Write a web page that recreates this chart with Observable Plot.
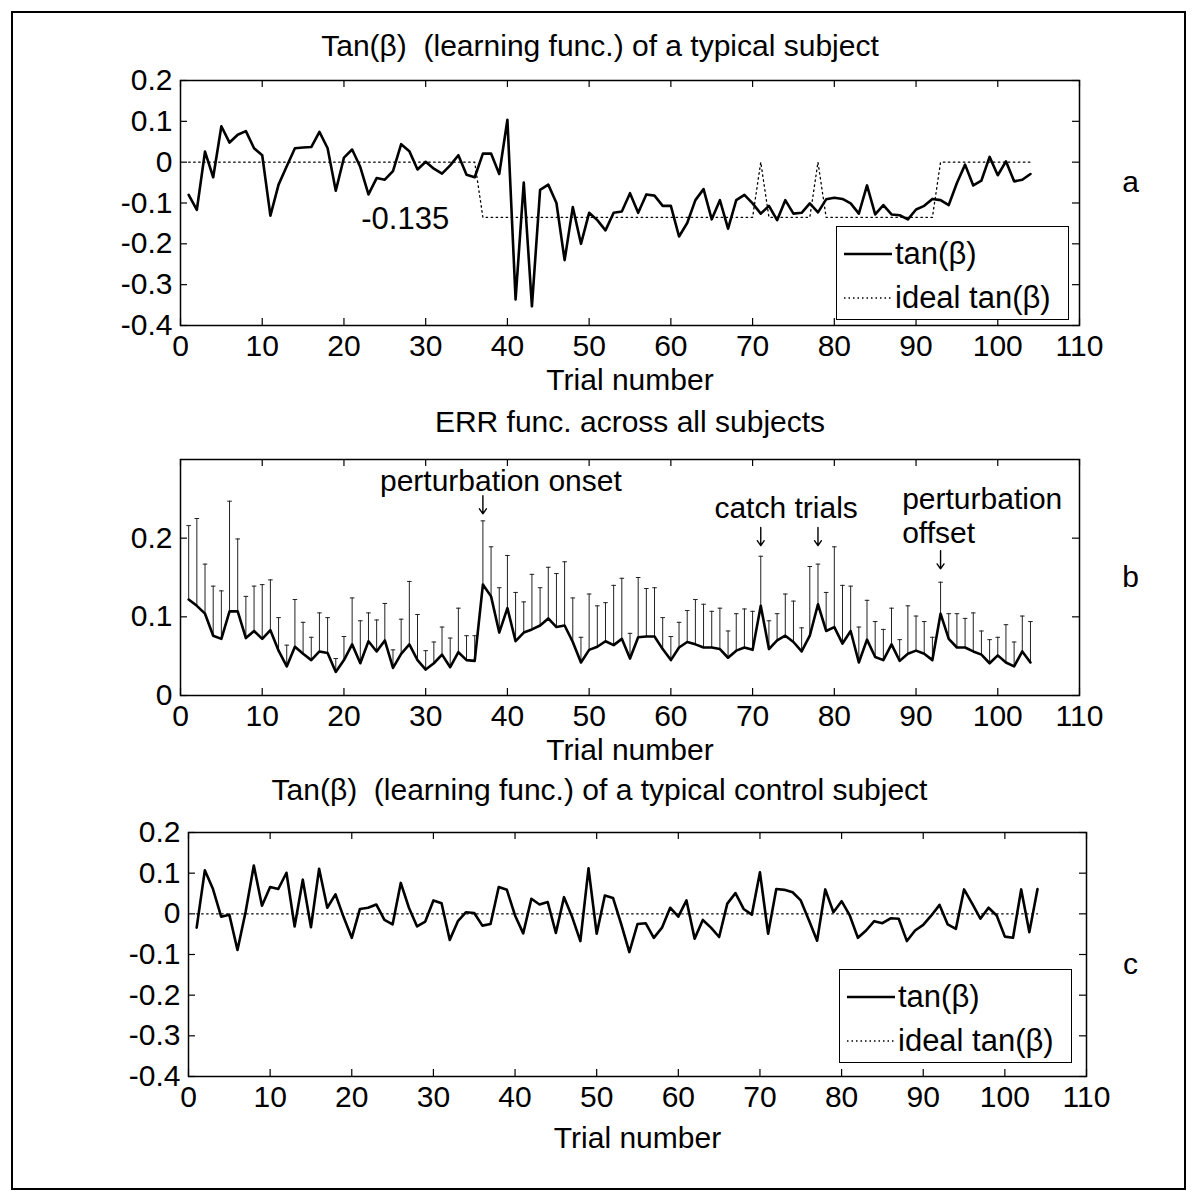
<!DOCTYPE html>
<html><head><meta charset="utf-8">
<script src="https://cdn.jsdelivr.net/npm/d3@7"></script>
<script src="https://cdn.jsdelivr.net/npm/@observablehq/plot@0.6"></script>
<style>
body{margin:0;background:#fff;}
#page{position:relative;width:1197px;height:1202px;overflow:hidden;font-family:"Liberation Sans",Arial,sans-serif;color:#000;background:#fff;}
#border{position:absolute;left:11px;top:11px;width:1175px;height:1179px;border:2px solid #000;box-sizing:border-box;}
.panel{position:absolute;left:0;}
.legend{position:absolute;border:1.5px solid #000;background:#fff;box-sizing:border-box;font-size:31px;width:233px;height:94px;}
.legend .row{position:absolute;left:0;height:40px;line-height:40px;display:flex;align-items:center;white-space:nowrap;}
.legend svg{display:block;margin-left:7px;margin-right:3px;}
</style></head><body><div id="page"><div id="border"></div></div>
<script>
// ---------- data ----------
const xTicks = [0,10,20,30,40,50,60,70,80,90,100,110];
const yTicksTan = [0.2,0.1,0,-0.1,-0.2,-0.3,-0.4];
const yTicksErr = [0,0.1,0.2];

const titleA = "Tan(\u03B2)  (learning func.) of a typical subject";
const titleB = "ERR func. across all subjects";
const titleC = "Tan(\u03B2)  (learning func.) of a typical control subject";
const xLabel = "Trial number";
const legendLabels = ["tan(\u03B2)", "ideal tan(\u03B2)"];

// Panel a: tan(beta) of a typical subject, trials 1..104
const tanA = [-0.080,-0.117,0.026,-0.037,0.088,0.048,0.067,0.076,0.034,0.017,
 -0.131,-0.055,-0.010,0.034,0.036,0.037,0.074,0.034,-0.070,0.011,
 0.031,-0.012,-0.079,-0.039,-0.043,-0.022,0.044,0.027,-0.018,0.001,
 -0.016,-0.028,-0.008,0.017,-0.031,-0.037,0.021,0.021,-0.029,0.104,
 -0.336,-0.050,-0.353,-0.068,-0.055,-0.100,-0.240,-0.110,-0.200,-0.124,
 -0.142,-0.167,-0.124,-0.121,-0.076,-0.124,-0.079,-0.082,-0.107,-0.107,
 -0.182,-0.149,-0.093,-0.066,-0.140,-0.093,-0.163,-0.093,-0.080,-0.101,
 -0.126,-0.107,-0.142,-0.093,-0.126,-0.124,-0.101,-0.123,-0.091,-0.087,
 -0.090,-0.101,-0.126,-0.057,-0.128,-0.105,-0.128,-0.130,-0.140,-0.116,
 -0.107,-0.090,-0.093,-0.105,-0.051,-0.006,-0.057,-0.045,0.013,-0.032,
 0.002,-0.047,-0.043,-0.029];
// ideal tan(beta): 0 before onset, -0.135 during perturbation, 0 on catch trials and after offset
const idealA = [0,0,0,0,0,0,0,0,0,0, 0,0,0,0,0,0,0,0,0,0,
 0,0,0,0,0,0,0,0,0,0, 0,0,0,0,0,0,-0.135,-0.135,-0.135,-0.135,
 -0.135,-0.135,-0.135,-0.135,-0.135,-0.135,-0.135,-0.135,-0.135,-0.135,
 -0.135,-0.135,-0.135,-0.135,-0.135,-0.135,-0.135,-0.135,-0.135,-0.135,
 -0.135,-0.135,-0.135,-0.135,-0.135,-0.135,-0.135,-0.135,-0.135,-0.135,
 0,-0.135,-0.135,-0.135,-0.135,-0.135,-0.135,0,-0.135,-0.135,
 -0.135,-0.135,-0.135,-0.135,-0.135,-0.135,-0.135,-0.135,-0.135,-0.135,
 -0.135,-0.135,0,0,0,0,0,0,0,0, 0,0,0,0];
const idealNote = [{trial: 27.5, value: -0.14, label: "-0.135"}];

// Panel b: ERR mean and upper error bar
const errMean = [0.122,0.114,0.104,0.076,0.072,0.107,0.107,0.073,0.082,0.072,
 0.083,0.057,0.037,0.062,0.053,0.045,0.056,0.054,0.030,0.045,
 0.065,0.041,0.069,0.056,0.070,0.035,0.053,0.065,0.045,0.033,
 0.041,0.052,0.036,0.055,0.045,0.044,0.141,0.126,0.080,0.111,
 0.069,0.080,0.084,0.089,0.098,0.087,0.089,0.068,0.042,0.058,
 0.062,0.069,0.064,0.072,0.047,0.074,0.075,0.075,0.059,0.045,
 0.061,0.068,0.065,0.061,0.061,0.059,0.048,0.057,0.061,0.058,
 0.114,0.059,0.070,0.076,0.068,0.056,0.076,0.116,0.082,0.087,
 0.066,0.082,0.042,0.071,0.049,0.045,0.065,0.044,0.053,0.057,
 0.053,0.045,0.104,0.072,0.061,0.061,0.056,0.052,0.041,0.051,
 0.042,0.037,0.056,0.042];
const errUpper = [0.216,0.225,0.167,0.139,0.133,0.247,0.199,0.126,0.139,0.141,
 0.147,0.099,0.064,0.122,0.093,0.074,0.105,0.099,0.047,0.075,
 0.124,0.095,0.105,0.096,0.117,0.058,0.097,0.145,0.103,0.057,
 0.068,0.087,0.073,0.111,0.076,0.076,0.222,0.189,0.137,0.178,
 0.131,0.119,0.154,0.137,0.163,0.155,0.170,0.124,0.074,0.129,
 0.114,0.118,0.140,0.149,0.079,0.150,0.136,0.137,0.099,0.075,
 0.093,0.108,0.122,0.116,0.107,0.111,0.082,0.104,0.110,0.107,
 0.177,0.095,0.104,0.129,0.120,0.086,0.164,0.167,0.131,0.189,
 0.140,0.139,0.087,0.121,0.094,0.084,0.111,0.071,0.114,0.101,
 0.094,0.074,0.144,0.104,0.104,0.098,0.105,0.082,0.071,0.074,
 0.090,0.068,0.101,0.094];
const notesCentered = [
 {trial: 39.2, value: 0.272, label: "perturbation onset"},
 {trial: 74.1, value: 0.238, label: "catch trials"}
];
const notesLeft = [
 {trial: 88.3, value: 0.229, label: "perturbation\noffset"}
];
const arrowsB = [
 {trial: 37, from: 0.254, to: 0.231},
 {trial: 71, from: 0.2135, to: 0.1905},
 {trial: 78, from: 0.2135, to: 0.1905},
 {trial: 93, from: 0.184, to: 0.161}
];

// Panel c: control subject
const tanC = [-0.034,0.107,0.061,-0.007,-0.002,-0.089,0.005,0.119,0.020,0.066,
 0.061,0.101,-0.031,0.084,-0.033,0.111,0.015,0.048,-0.008,-0.059,
 0.012,0.015,0.023,-0.015,-0.026,0.076,0.015,-0.031,-0.019,0.033,
 0.026,-0.064,-0.018,0.004,0.002,-0.029,-0.025,0.066,0.059,-0.004,
 -0.048,0.037,0.023,0.029,-0.047,0.041,-0.008,-0.067,0.112,-0.049,
 0.045,0.039,-0.025,-0.094,-0.025,-0.023,-0.059,-0.034,0.015,-0.007,
 0.033,-0.061,-0.015,-0.034,-0.057,0.025,0.051,0.012,-0.002,0.102,
 -0.049,0.061,0.059,0.053,0.033,-0.016,-0.066,0.060,0.004,0.031,
 -0.004,-0.059,-0.041,-0.018,-0.023,-0.011,-0.012,-0.067,-0.041,-0.027,
 -0.004,0.022,-0.026,-0.037,0.060,0.025,-0.012,0.015,-0.004,-0.056,
 -0.059,0.060,-0.045,0.061];
const idealC = [{trial: 1, value: 0}, {trial: 104, value: 0}];

// ---------- helpers ----------
const FONT = "Liberation Sans, Arial, sans-serif";
const fmtY = d => d === 0 ? "0" : d.toFixed(1);
const toRows = arr => arr.map((v, i) => ({trial: i + 1, value: v}));

function axesMarks(yTicks, ih, iw) {
  return [
    Plot.frame({stroke: "#000", strokeWidth: 1.5}),
    Plot.tickX(xTicks, {x: d => d, insetTop: ih - 7, stroke: "#000", strokeWidth: 1.2}),
    Plot.tickX(xTicks, {x: d => d, insetBottom: ih - 7, stroke: "#000", strokeWidth: 1.2}),
    Plot.tickY(yTicks, {y: d => d, insetRight: iw - 7, stroke: "#000", strokeWidth: 1.2}),
    Plot.tickY(yTicks, {y: d => d, insetLeft: iw - 7, stroke: "#000", strokeWidth: 1.2}),
    Plot.axisX(xTicks, {anchor: "bottom", tickSize: 0, tickPadding: 9, tickFormat: d => String(d), label: null, fontSize: 30, fill: "#000"}),
    Plot.axisY(yTicks, {anchor: "left", tickSize: 0, tickPadding: 8, tickFormat: fmtY, label: null, fontSize: 30, fill: "#000"})
  ];
}

function makePanel(cfg) {
  const ih = cfg.height - cfg.mt - cfg.mb;
  const iw = 1197 - cfg.ml - cfg.mr;
  const svg = Plot.plot({
    width: 1197, height: cfg.height,
    marginTop: cfg.mt, marginBottom: cfg.mb, marginLeft: cfg.ml, marginRight: cfg.mr,
    x: {domain: [0, 110], axis: null},
    y: {domain: cfg.yDomain, axis: null},
    style: {fontFamily: FONT, fontSize: "30px", color: "#000", background: "transparent", overflow: "visible"},
    marks: [
      ...axesMarks(cfg.yTicks, ih, iw),
      ...cfg.marks,
      Plot.text([cfg.title], {frameAnchor: "top", dx: cfg.titleDx, dy: cfg.titleDy, fontSize: 30, fill: "#000", textAnchor: "middle", lineAnchor: "middle"}),
      Plot.text([xLabel], {frameAnchor: "bottom", dy: cfg.xLabelDy, fontSize: 30, fill: "#000", textAnchor: "middle", lineAnchor: "middle"}),
      Plot.text([cfg.letter], {frameAnchor: "right", dx: cfg.letterDx, dy: cfg.letterDy, fontSize: 30, fill: "#000", textAnchor: "middle", lineAnchor: "middle"})
    ]
  });
  svg.classList.add("panel");
  svg.style.top = cfg.top + "px";
  document.getElementById("page").appendChild(svg);
}

function makeLegend(left, top) {
  const div = document.createElement("div");
  div.className = "legend";
  div.style.left = left + "px";
  div.style.top = top + "px";
  const rows = [
    {label: legendLabels[0], dash: null, width: 2.5, cy: 27},
    {label: legendLabels[1], dash: "1.5,3", width: 1.3, cy: 71}
  ];
  for (const r of rows) {
    const row = document.createElement("div");
    row.className = "row";
    row.style.top = (r.cy - 20) + "px";
    row.innerHTML = `<svg width="48" height="10"><line x1="0" x2="48" y1="5" y2="5" stroke="#000" stroke-width="${r.width}" ${r.dash ? `stroke-dasharray="${r.dash}"` : ""}/></svg><span>${r.label}</span>`;
    div.appendChild(row);
  }
  document.getElementById("page").appendChild(div);
}

// ---------- panel a ----------
makePanel({
  top: 20, height: 380, mt: 60, mb: 75, ml: 180, mr: 118,
  yDomain: [-0.4, 0.2], yTicks: yTicksTan,
  title: titleA, titleDx: -30, titleDy: -34, xLabelDy: 55, letter: "a", letterDx: 51, letterDy: -21,
  marks: [
    Plot.line(toRows(idealA), {x: "trial", y: "value", stroke: "#000", strokeWidth: 1.3, strokeDasharray: "1.5,3.5"}),
    Plot.line(toRows(tanA), {x: "trial", y: "value", stroke: "#000", strokeWidth: 2.6, strokeLinejoin: "round"}),
    Plot.text(idealNote, {x: "trial", y: "value", text: "label", fontSize: 31, fill: "#000"})
  ]
});
makeLegend(836, 226);

// ---------- panel b ----------
const errRows = errMean.map((m, i) => ({trial: i + 1, mean: m, upper: errUpper[i]}));
makePanel({
  top: 400, height: 390, mt: 59, mb: 95, ml: 180, mr: 118,
  yDomain: [0, 0.3], yTicks: yTicksErr,
  title: titleB, titleDx: 0, titleDy: -37, xLabelDy: 55, letter: "b", letterDx: 51, letterDy: 0,
  marks: [
    Plot.ruleX(errRows, {x: "trial", y1: "mean", y2: "upper", stroke: "#222", strokeWidth: 1}),
    Plot.link(errRows, {x1: d => d.trial - 0.28, x2: d => d.trial + 0.28, y1: "upper", y2: "upper", stroke: "#222", strokeWidth: 1}),
    Plot.line(errRows, {x: "trial", y: "mean", stroke: "#000", strokeWidth: 2.6, strokeLinejoin: "round"}),
    Plot.text(notesCentered, {x: "trial", y: "value", text: "label", textAnchor: "middle", fontSize: 30, fill: "#000"}),
    Plot.text(notesLeft, {x: "trial", y: "value", text: "label", textAnchor: "start", lineHeight: 1.12, fontSize: 30, fill: "#000"}),
    Plot.arrow(arrowsB, {x1: "trial", x2: "trial", y1: "from", y2: "to", stroke: "#000", strokeWidth: 1.4, headLength: 9, headAngle: 70})
  ]
});

// ---------- panel c ----------
makePanel({
  top: 790, height: 400, mt: 42, mb: 114, ml: 188, mr: 111,
  yDomain: [-0.4, 0.2], yTicks: yTicksTan,
  title: titleC, titleDx: -38, titleDy: -42, xLabelDy: 62, letter: "c", letterDx: 44, letterDy: 10,
  marks: [
    Plot.line(idealC, {x: "trial", y: "value", stroke: "#000", strokeWidth: 1.3, strokeDasharray: "1.5,3.5"}),
    Plot.line(toRows(tanC), {x: "trial", y: "value", stroke: "#000", strokeWidth: 2.6, strokeLinejoin: "round"})
  ]
});
makeLegend(839, 969);
</script>
</body></html>
